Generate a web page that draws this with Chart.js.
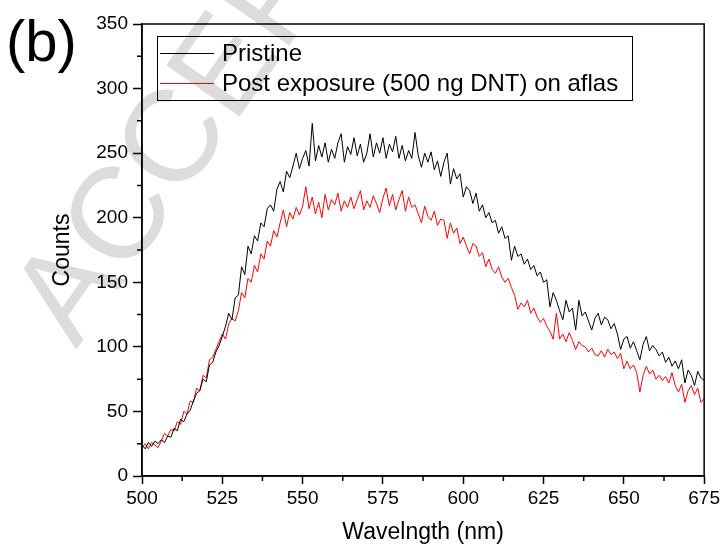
<!DOCTYPE html>
<html>
<head>
<meta charset="utf-8">
<script src="https://cdn.jsdelivr.net/npm/chart.js@4/dist/chart.umd.min.js"></script>
<style>
  html, body { margin: 0; padding: 0; background: #fff; }
  canvas { display: block; }
</style>
</head>
<body>
<canvas id="grafico" width="723" height="549"></canvas>
<script>
// longitudes de onda (nm), un punto por nm
const wavelengths = [
  500, 501, 502, 503, 504, 505, 506, 507, 508, 509,
  510, 511, 512, 513, 514, 515, 516, 517, 518, 519,
  520, 521, 522, 523, 524, 525, 526, 527, 528, 529,
  530, 531, 532, 533, 534, 535, 536, 537, 538, 539,
  540, 541, 542, 543, 544, 545, 546, 547, 548, 549,
  550, 551, 552, 553, 554, 555, 556, 557, 558, 559,
  560, 561, 562, 563, 564, 565, 566, 567, 568, 569,
  570, 571, 572, 573, 574, 575, 576, 577, 578, 579,
  580, 581, 582, 583, 584, 585, 586, 587, 588, 589,
  590, 591, 592, 593, 594, 595, 596, 597, 598, 599,
  600, 601, 602, 603, 604, 605, 606, 607, 608, 609,
  610, 611, 612, 613, 614, 615, 616, 617, 618, 619,
  620, 621, 622, 623, 624, 625, 626, 627, 628, 629,
  630, 631, 632, 633, 634, 635, 636, 637, 638, 639,
  640, 641, 642, 643, 644, 645, 646, 647, 648, 649,
  650, 651, 652, 653, 654, 655, 656, 657, 658, 659,
  660, 661, 662, 663, 664, 665, 666, 667, 668, 669,
  670, 671, 672, 673, 674, 675
];

const pristine = [
  24, 21, 26, 23, 27, 25, 28, 26, 31, 30,
  37, 35, 44, 42, 48, 51, 58, 64, 66, 75,
  73, 86, 88, 96, 101, 108, 116, 126, 121, 138,
  140, 162, 156, 178, 172, 186, 182, 196, 193, 207,
  210, 205, 222, 228, 220, 236, 231, 240, 250, 238,
  246, 252, 240, 273, 244, 256, 247, 258, 243, 253,
  246, 258, 265, 243, 255, 249, 262, 248, 257, 243,
  250, 265, 247, 258, 250, 262, 246, 257, 251, 263,
  246, 256, 244, 252, 246, 266, 248, 239, 250, 243,
  251, 237, 244, 232, 243, 250, 226, 238, 230, 234,
  216, 224, 221, 211, 219, 205, 210, 200, 204, 196,
  198, 188, 193, 184, 186, 167, 178, 170, 172, 164,
  168, 160, 163, 155, 158, 150, 152, 131, 142, 136,
  128, 121, 136, 127, 130, 113, 136, 124, 127, 120,
  113, 122, 126, 117, 123, 121, 114, 118, 110, 98,
  106, 108, 99, 104, 97, 90, 102, 108, 97, 101,
  98, 93, 96, 88, 92, 85, 89, 83, 90, 72,
  82, 78, 70, 81, 76, 74
];

const postExposure = [
  22, 25, 21, 26, 24, 22, 27, 33, 31, 36,
  35, 42, 40, 50, 48, 58, 57, 68, 66, 78,
  76, 90, 92, 98, 104, 110, 106, 118, 122, 120,
  128, 142, 138, 153, 150, 163, 158, 172, 168, 182,
  178, 190, 185, 196, 206, 193, 204, 199, 208, 202,
  209, 224, 207, 216, 203, 212, 200, 218, 206, 214,
  210, 219, 205, 213, 208, 216, 207, 214, 221, 206,
  213, 208, 217, 211, 204, 215, 223, 209, 218, 206,
  214, 221, 205, 216, 208, 210, 203, 196, 209, 201,
  198, 205, 194, 199, 198, 184, 196, 188, 192, 180,
  185, 178, 172, 180, 178, 170, 173, 162, 168, 160,
  157, 162, 154, 150, 153, 146, 140, 129, 134, 131,
  136, 126, 130, 123, 119, 122, 116, 112, 106, 126,
  106, 110, 104, 111, 105, 98, 104, 101, 100, 96,
  99, 94, 93, 97, 92, 98, 94, 96, 91, 95,
  83, 89, 83, 86, 80, 65, 78, 85, 79, 82,
  75, 78, 74, 77, 72, 80, 70, 65, 71, 57,
  66, 70, 63, 68, 57, 60
];

const seriesLabels = ['Pristine', 'Post exposure (500 ng DNT) on aflas'];
const seriesColors = ['#000000', '#ff0000'];

// marcas menores
const minorX = [512.5, 537.5, 562.5, 587.5, 612.5, 637.5, 662.5];
const minorY = [25, 75, 125, 175, 225, 275, 325];

const FUENTE = "'Liberation Sans', Arial, sans-serif";

const toPoints = (ys) => ys.map((y, i) => ({ x: wavelengths[i], y }));

const extras = {
    id: 'extras',
    beforeDraw(chart) {
        // marca de agua
        const ctx = chart.ctx;
        ctx.save();
        ctx.translate(76, 350);
        ctx.rotate(-55 * Math.PI / 180);
        ctx.font = `130px ${FUENTE}`;
        ctx.fillStyle = '#dcdcdc';
        ctx.textBaseline = 'alphabetic';
        ctx.fillText('ACCEPTED MANUSCRIPT', 0, 0);
        ctx.restore();
    },
    afterDraw(chart) {
        const ctx = chart.ctx;
        const area = chart.chartArea;
        const xs = chart.scales.x;
        const ys = chart.scales.y;
        ctx.save();

        // marco
        ctx.strokeStyle = '#000';
        ctx.lineWidth = 1.5;
        ctx.strokeRect(area.left, area.top, area.right - area.left, area.bottom - area.top);

        // ticks menores
        ctx.beginPath();
        minorX.forEach(v => {
            const px = xs.getPixelForValue(v);
            ctx.moveTo(px, area.bottom);
            ctx.lineTo(px, area.bottom + 5);
        });
        minorY.forEach(v => {
            const py = ys.getPixelForValue(v);
            ctx.moveTo(area.left - 5, py);
            ctx.lineTo(area.left, py);
        });
        ctx.stroke();

        // leyenda
        ctx.lineWidth = 1;
        ctx.strokeStyle = '#000';
        ctx.strokeRect(157.5, 36.5, 475, 64);
        ctx.font = `24px ${FUENTE}`;
        ctx.textBaseline = 'middle';
        ctx.textAlign = 'left';
        seriesLabels.forEach((label, i) => {
            const y = 53 + i * 30;
            ctx.strokeStyle = seriesColors[i];
            ctx.lineWidth = 1.2;
            ctx.beginPath();
            ctx.moveTo(160, y + 0.5);
            ctx.lineTo(214, y + 0.5);
            ctx.stroke();
            ctx.fillStyle = '#000';
            ctx.fillText(label, 222, y + 1);
        });

        // etiqueta del panel
        ctx.font = `58px ${FUENTE}`;
        ctx.fillStyle = '#000';
        ctx.fillText('(b)', 6, 45);
        ctx.restore();
    }
};

new Chart(document.getElementById('grafico'), {
    type: 'line',
    data: {
        datasets: [{
            label: seriesLabels[0],
            data: toPoints(pristine),
            borderColor: seriesColors[0],
            borderWidth: 1,
            pointRadius: 0,
            tension: 0,
            fill: false
        }, {
            label: seriesLabels[1],
            data: toPoints(postExposure),
            borderColor: seriesColors[1],
            borderWidth: 1,
            pointRadius: 0,
            tension: 0,
            fill: false
        }]
    },
    options: {
        responsive: false,
        animation: false,
        events: [],
        layout: { padding: { top: 24, right: 18, left: 0, bottom: 0 } },
        plugins: {
            legend: { display: false },
            tooltip: { enabled: false }
        },
        scales: {
            x: {
                type: 'linear',
                min: 500,
                max: 675,
                afterFit: (s) => { s.height = 73; },
                ticks: {
                    stepSize: 25,
                    color: '#000',
                    padding: 3,
                    maxRotation: 0,
                    font: { family: FUENTE, size: 19 }
                },
                grid: {
                    drawOnChartArea: false,
                    drawTicks: true,
                    tickLength: 8,
                    tickColor: '#000',
                    tickWidth: 1.5
                },
                border: { display: true, color: '#000', width: 1.5 },
                title: {
                    display: true,
                    text: 'Wavelngth (nm)',
                    color: '#000',
                    font: { family: FUENTE, size: 23 },
                    padding: { top: 0, bottom: 3 }
                }
            },
            y: {
                min: 0,
                max: 350,
                afterFit: (s) => { s.width = 142; },
                ticks: {
                    stepSize: 50,
                    color: '#000',
                    padding: 5,
                    font: { family: FUENTE, size: 19 }
                },
                grid: {
                    drawOnChartArea: false,
                    drawTicks: true,
                    tickLength: 9,
                    tickColor: '#000',
                    tickWidth: 1.5
                },
                border: { display: true, color: '#000', width: 1.5 },
                title: {
                    display: true,
                    text: 'Counts',
                    color: '#000',
                    font: { family: FUENTE, size: 23 },
                    padding: { top: 49, bottom: 0 }
                }
            }
        }
    },
    plugins: [extras]
});
</script>
</body>
</html>
